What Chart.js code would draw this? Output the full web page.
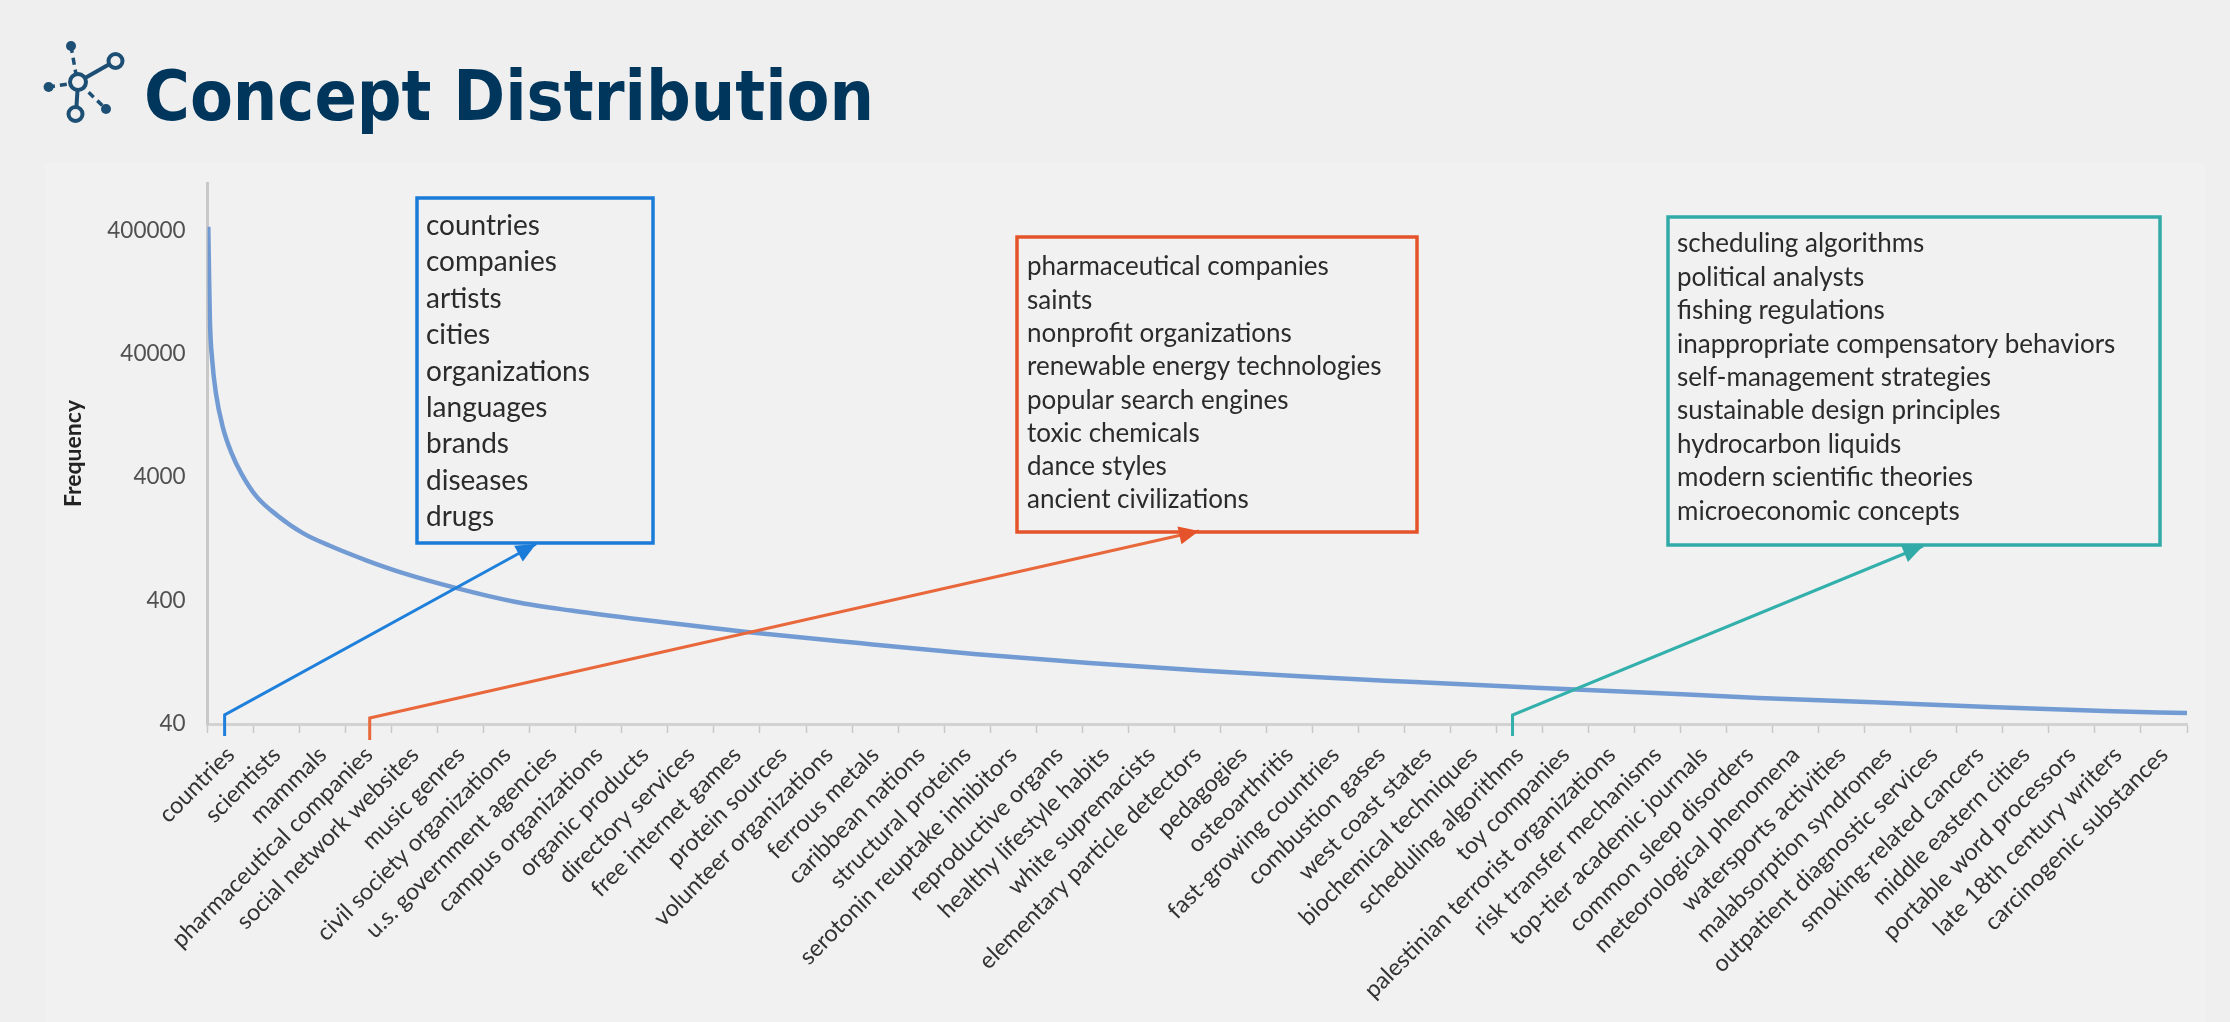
<!DOCTYPE html>
<html>
<head>
<meta charset="utf-8">
<title>Concept Distribution</title>
<script src="https://cdn.jsdelivr.net/npm/chart.js@4"></script>
<style>
  html, body { margin: 0; padding: 0; background: #efefef; }
  body { position: relative; width: 2230px; height: 1022px; overflow: hidden; }
  #panel { position: absolute; left: 45px; top: 163px; width: 2160px; height: 859px; background: #f1f1f1; }
  #icon { position: absolute; left: 0; top: 0; }
  h1 {
    position: absolute; left: 144px; top: 54px; margin: 0;
    font: bold 69.5px "DejaVu Sans Condensed", "DejaVu Sans", sans-serif;
    font-stretch: condensed; color: #00355c; line-height: 84px; white-space: nowrap;
  }
  #chart { position: absolute; left: 0; top: 0; }
</style>
</head>
<body>
<div id="panel"></div>
<svg id="icon" width="140" height="130" fill="none" stroke="#1d4f75">
  <g stroke-width="4">
    <path d="M78 82 L115 61" stroke-width="4"/>
    <path d="M78 82 L76 114" stroke-width="4"/>
    <path d="M71 46 L77 80 M48 87 L76 83 M80 84 L106 109" stroke-dasharray="7 5" stroke-width="3.5"/>
    <circle cx="78" cy="82" r="8" fill="#efefef" stroke-width="4"/>
    <circle cx="115.5" cy="61" r="7" fill="#efefef" stroke-width="4"/>
    <circle cx="75.5" cy="114" r="7" fill="#efefef" stroke-width="4"/>
  </g>
  <g fill="#1d4f75" stroke="none">
    <circle cx="71" cy="46" r="5"/>
    <circle cx="48.6" cy="87" r="5"/>
    <circle cx="106" cy="109" r="5"/>
  </g>
</svg>
<h1>Concept Distribution</h1>
<canvas id="chart" width="2230" height="1022"></canvas>
<script>
const categories = ['countries', 'scientists', 'mammals', 'pharmaceutical companies', 'social network websites',
  'music genres', 'civil society organizations', 'u.s. government agencies', 'campus organizations',
  'organic products', 'directory services', 'free internet games', 'protein sources', 'volunteer organizations',
  'ferrous metals', 'caribbean nations', 'structural proteins', 'serotonin reuptake inhibitors',
  'reproductive organs', 'healthy lifestyle habits', 'white supremacists', 'elementary particle detectors',
  'pedagogies', 'osteoarthritis', 'fast-growing countries', 'combustion gases', 'west coast states',
  'biochemical techniques', 'scheduling algorithms', 'toy companies', 'palestinian terrorist organizations',
  'risk transfer mechanisms', 'top-tier academic journals', 'common sleep disorders', 'meteorological phenomena',
  'watersports activities', 'malabsorption syndromes', 'outpatient diagnostic services', 'smoking-related cancers',
  'middle eastern cities', 'portable word processors', 'late 18th century writers', 'carcinogenic substances'];

// position along the category axis, in category widths, and the frequency read there
const rankPositions = [0.015, 0.03, 0.05, 0.1, 0.18, 0.33, 0.52, 0.74, 1.07, 1.5, 2.07, 2.72, 3.46, 4.18, 5.43, 6.67,
  7.9, 9.17, 11.66, 14.15, 16.65, 19.15, 21.65, 23.73, 26.23, 28.73, 31.2, 33.7, 36.2, 38.7, 41.2, 43];
const frequencies = [428600, 191000, 75200, 35600, 19200, 10200, 6280, 4245, 2770, 1980, 1410, 1087, 845, 682, 503, 392,
  332, 288, 224, 181, 148, 125, 108.2, 97.3, 87.5, 79, 72, 65, 60, 55, 51, 49];

const yTicks = [40, 400, 4000, 40000, 400000];

const blueTerms = ['countries', 'companies', 'artists', 'cities', 'organizations', 'languages', 'brands', 'diseases', 'drugs'];
const orangeTerms = ['pharmaceutical companies', 'saints', 'nonprofit organizations', 'renewable energy technologies',
  'popular search engines', 'toxic chemicals', 'dance styles', 'ancient civilizations'];
const tealTerms = ['scheduling algorithms', 'political analysts', 'fishing regulations', 'inappropriate compensatory behaviors',
  'self-management strategies', 'sustainable design principles', 'hydrocarbon liquids', 'modern scientific theories',
  'microeconomic concepts'];

const labelFont = 'Lato';

const callouts = [
  { terms: blueTerms, from: 'countries', nudge: -6, color: '#1b7bd8', line: '#1f80dc',
    box: [417, 198, 653, 543], textX: 426, firstY: 226, step: 36.4, size: 28, elbowY: 715, stubY: 736, tip: [536, 544] },
  { terms: orangeTerms, from: 'pharmaceutical companies', nudge: 1, color: '#e5532b', line: '#e8683c',
    box: [1017, 237, 1417, 532], textX: 1027, firstY: 267, step: 33.3, size: 26, elbowY: 718, stubY: 740, tip: [1199, 531] },
  { terms: tealTerms, from: 'scheduling algorithms', nudge: -7, color: '#31aaa8', line: '#33b0ab',
    box: [1668, 217, 2160, 545], textX: 1677, firstY: 244, step: 33.4, size: 26, elbowY: 715, stubY: 736, tip: [1923, 546] }
];

// boxes with the term lists and the arrows coming up from the category axis
const calloutPlugin = {
  id: 'callouts',
  afterDatasetsDraw(chart) {
    const ctx = chart.ctx;
    const cat = chart.scales.xCat;
    callouts.forEach((c) => {
      const x0 = cat.getPixelForValue(categories.indexOf(c.from)) + c.nudge;
      const [tx, ty] = c.tip;
      ctx.save();
      ctx.lineWidth = 3;
      ctx.strokeStyle = c.line;
      ctx.beginPath();
      ctx.moveTo(x0, c.stubY);
      ctx.lineTo(x0, c.elbowY);
      ctx.lineTo(tx, ty);
      ctx.stroke();

      const a = Math.atan2(ty - c.elbowY, tx - x0);
      ctx.fillStyle = c.color;
      ctx.translate(tx, ty);
      ctx.rotate(a);
      ctx.beginPath();
      ctx.moveTo(0, 0);
      ctx.lineTo(-20, -9);
      ctx.lineTo(-20, 9);
      ctx.closePath();
      ctx.fill();
      ctx.restore();

      ctx.save();
      const [l, t, r, b] = c.box;
      ctx.lineWidth = 3.5;
      ctx.strokeStyle = c.color;
      ctx.strokeRect(l, t, r - l, b - t);
      ctx.fillStyle = '#2b2b2b';
      ctx.font = c.size + 'px ' + labelFont;
      ctx.textBaseline = 'middle';
      c.terms.forEach((term, i) => ctx.fillText(term, c.textX, c.firstY + i * c.step));
      ctx.restore();
    });
  }
};

new Chart(document.getElementById('chart'), {
  type: 'line',
  data: {
    datasets: [{
      label: 'Frequency',
      data: rankPositions.map((x, i) => ({ x, y: frequencies[i] })),
      xAxisID: 'x',
      yAxisID: 'y',
      borderColor: 'rgba(104, 148, 208, 0.92)',
      borderWidth: 4.5,
      pointRadius: 0,
      cubicInterpolationMode: 'monotone',
      fill: false
    }]
  },
  options: {
    responsive: false,
    animation: false,
    devicePixelRatio: 1,
    layout: { padding: { left: 60, top: 183, right: 43, bottom: 0 } },
    plugins: { legend: { display: false }, tooltip: { enabled: false }, title: { display: false } },
    scales: {
      x: { type: 'linear', display: false, min: 0, max: categories.length },
      xCat: {
        type: 'category',
        position: 'bottom',
        labels: categories,
        offset: true,
        afterFit: (scale) => { scale.height = 298; },
        border: { color: '#d2d2d2', width: 3 },
        grid: { offset: true, drawOnChartArea: false, color: '#c8c8c8', tickLength: 9, tickWidth: 1.5 },
        ticks: {
          autoSkip: false,
          minRotation: 45,
          maxRotation: 45,
          color: '#333',
          font: { family: labelFont, size: 23.5 },
          padding: 8
        }
      },
      y: {
        type: 'logarithmic',
        position: 'left',
        min: 40,
        max: 970000,
        afterBuildTicks: (scale) => { scale.ticks = yTicks.map((value) => ({ value })); },
        afterFit: (scale) => { scale.width = 147.6; },
        border: { color: '#c8c8c8', width: 3 },
        grid: { display: false },
        title: { display: true, text: 'Frequency', color: '#222', font: { family: labelFont, size: 23, weight: 'bold' }, padding: 0 },
        ticks: {
          callback: (value) => String(value),
          color: '#505050',
          font: { family: labelFont, size: 22.5 },
          padding: 14
        }
      }
    }
  },
  plugins: [calloutPlugin]
});
</script>
</body>
</html>
